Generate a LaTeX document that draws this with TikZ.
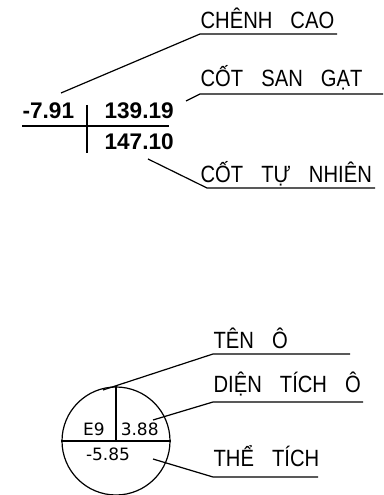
\documentclass[tikz,border=0pt]{standalone}
\usepackage{fontspec}
\usepackage{graphicx}
\usepackage{tikz}
\usetikzlibrary{positioning, calc}
\newfontfamily\cadfont{Liberation Sans}
\newfontfamily\numfont{Liberation Sans}
\newfontfamily\cellfont{DejaVu Sans}
\newcommand{\cadtext}[1]{\scalebox{0.86}[1]{\spaceskip=21pt\relax #1}}

\begin{document}
\begin{tikzpicture}[x=1pt, y=1pt, line width=1.2pt,
  lbl/.style={anchor=base west, inner sep=0pt, font=\cadfont\fontsize{23.5}{27}\selectfont},
  num/.style={anchor=base west, inner sep=0pt, font=\numfont\bfseries\fontsize{22.6}{26}\selectfont},
  cellnum/.style={inner sep=0pt, font=\cellfont\fontsize{17}{20}\selectfont}]

\useasboundingbox (0,0) rectangle (383,495);

%% ── elevation marker: values ─────────────────────────────────────
\node[num] (dh) at (22,376) {-7.91};
\node[num] (sg) at (104,376) {139.19};
\node[num] (tn) at (104,345) {147.10};
\draw (87,390) -- (87,342);
\draw (22,369) -- (169,369);

%% ── elevation marker: leaders and labels ─────────────────────────
\coordinate (chA) at (61,402);  \coordinate (chB) at (200,461); \coordinate (chC) at (337,461);
\coordinate (sgA) at (186,394); \coordinate (sgB) at (200,401); \coordinate (sgC) at (383,401);
\coordinate (tnA) at (148,336); \coordinate (tnB) at (207,307); \coordinate (tnC) at (375,307);
\draw (chA) -- (chB) -- (chC);
\draw (sgA) -- (sgB) -- (sgC);
\draw (tnA) -- (tnB) -- (tnC);
\node[lbl] (chl) at (200,466) {\cadtext{CHÊNH CAO}};
\node[lbl] (sgl) at (200,408) {\cadtext{CỐT SAN GẠT}};
\node[lbl] (tnl) at (200,312) {\cadtext{CỐT TỰ NHIÊN}};

%% ── grid cell marker ─────────────────────────────────────────────
\node[circle, draw, inner sep=0pt, minimum size=108pt] (cell) at (116,54) {};
\draw (cell.west) -- (cell.east);
\draw (cell.north) -- (cell.center);
\node[cellnum] (name) at (94,66) {E9};
\node[cellnum] (area) at (139.7,66) {3.88};
\node[cellnum] (vol) at (108,41) {-5.85};

%% ── grid cell marker: leaders and labels ─────────────────────────
\coordinate (tA) at (103,105); \coordinate (tB) at (213,141); \coordinate (tC) at (350,141);
\coordinate (dA) at (153,75);  \coordinate (dB) at (213,93);  \coordinate (dC) at (363,93);
\coordinate (vA) at (153,36);  \coordinate (vB) at (213,18);  \coordinate (vC) at (318,18);
\draw (tA) -- (tB) -- (tC);
\draw (dA) -- (dB) -- (dC);
\draw (vA) -- (vB) -- (vC);
\node[lbl] (tl) at (213,146) {\cadtext{TÊN Ô}};
\node[lbl] (dl) at (213,102) {\cadtext{DIỆN TÍCH Ô}};
\node[lbl] (vl) at (213,28) {\cadtext{THỂ TÍCH}};

\end{tikzpicture}
\end{document}
